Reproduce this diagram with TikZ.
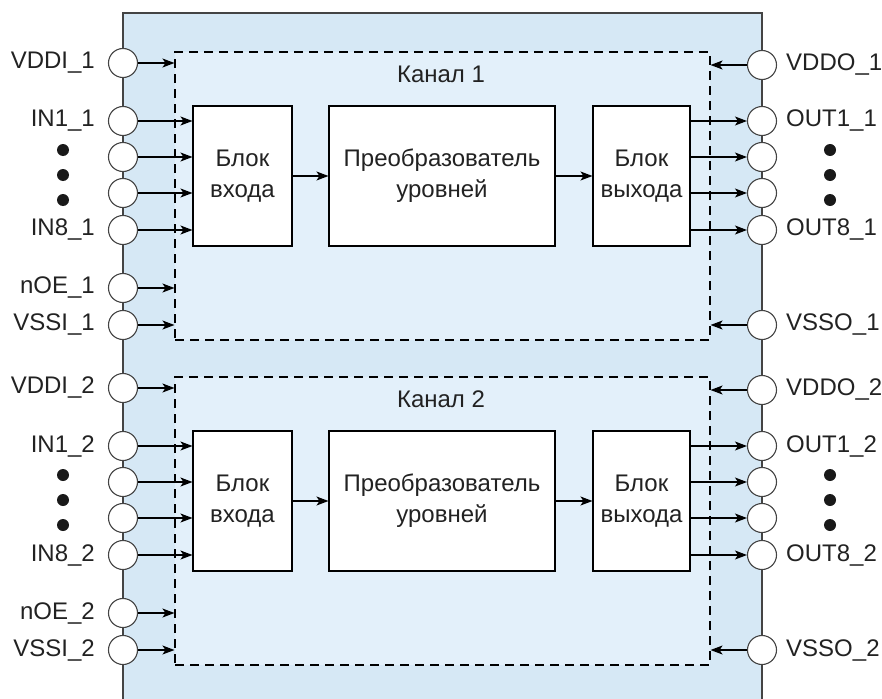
\documentclass[tikz,border=0pt]{standalone}
\usepackage{fontspec}
\setmainfont{Liberation Sans}
\usetikzlibrary{arrows.meta,calc}
\definecolor{outerbg}{HTML}{D6E8F5}
\definecolor{innerbg}{HTML}{E3F0FA}
\definecolor{txt}{HTML}{222222}
\definecolor{chipline}{HTML}{444444}
\tikzset{
  arr/.style={draw=black,line width=1.1pt,-{Stealth[length=12pt,width=9pt,inset=3pt]}},
  pin/.style={circle,draw=chipline,fill=white,line width=1.1pt,minimum size=29pt,inner sep=0pt},
  blk/.style={draw=black,fill=white,line width=1.1pt,minimum height=140pt,inner sep=0pt,align=center,text=txt,font=\fontsize{24}{31}\selectfont},
  chan/.style={draw=black,dashed,dash pattern=on 9pt off 6pt,fill=innerbg,line width=1.1pt,minimum width=535pt,minimum height=288pt,inner sep=0pt},
  lbl/.style={text=txt,font=\fontsize{24}{28}\selectfont,inner sep=0pt},
  dotb/.style={circle,fill=black!90,minimum size=12pt,inner sep=0pt},
}
\newcommand\mychannel[2]{%
\begin{scope}[yshift=-#2pt]
  \node[chan] (ch#1) at (442.5,196) {};
  \node[lbl] (lab#1) at (441,74) {Канал #1};
  \node[blk,minimum width=99pt] (bin#1) at (242.5,176) {Блок\\входа};
  \node[blk,minimum width=226pt] (conv#1) at (442,176) {Преобразователь\\уровней};
  \node[blk,minimum width=97pt] (bout#1) at (641.5,176) {Блок\\выхода};
  \draw[arr] (bin#1) -- (conv#1);
  \draw[arr] (conv#1) -- (bout#1);
  % left pins
  \node[pin] (vddi#1) at (123,63) {};
  \node[pin] (ina#1) at (123,121) {};
  \node[pin] (inb#1) at (123,157) {};
  \node[pin] (inc#1) at (123,193) {};
  \node[pin] (ind#1) at (123,230) {};
  \node[pin] (noe#1) at (123,288) {};
  \node[pin] (vssi#1) at (123,325) {};
  \draw[arr] (vddi#1) -- (vddi#1 -| ch#1.west);
  \draw[arr] (noe#1) -- (noe#1 -| ch#1.west);
  \draw[arr] (vssi#1) -- (vssi#1 -| ch#1.west);
  \foreach \p in {ina,inb,inc,ind}{\draw[arr] (\p#1) -- (\p#1 -| bin#1.west);}
  % right pins
  \node[pin] (vddo#1) at (762,65) {};
  \node[pin] (outa#1) at (762,121) {};
  \node[pin] (outb#1) at (762,157) {};
  \node[pin] (outc#1) at (762,193) {};
  \node[pin] (outd#1) at (762,230) {};
  \node[pin] (vsso#1) at (762,325) {};
  \draw[arr] (vddo#1) -- (vddo#1 -| ch#1.east);
  \draw[arr] (vsso#1) -- (vsso#1 -| ch#1.east);
  \foreach \p in {outa,outb,outc,outd}{\draw[arr] (\p#1 -| bout#1.east) -- (\p#1);}
  % labels
  \node[lbl,anchor=east] (lvddi#1) at (95,63) {VDDI\_#1};
  \node[lbl,anchor=east] (lina#1) at (95,121) {IN1\_#1};
  \node[lbl,anchor=east] (lind#1) at (95,230) {IN8\_#1};
  \node[lbl,anchor=east] (lnoe#1) at (95,288) {nOE\_#1};
  \node[lbl,anchor=east] (lvssi#1) at (95,325) {VSSI\_#1};
  \node[lbl,anchor=west] (lvddo#1) at (786,65) {VDDO\_#1};
  \node[lbl,anchor=west] (louta#1) at (786,121) {OUT1\_#1};
  \node[lbl,anchor=west] (loutd#1) at (786,230) {OUT8\_#1};
  \node[lbl,anchor=west] (lvsso#1) at (786,325) {VSSO\_#1};
  \node[dotb] (dla#1) at (63,150) {};
  \node[dotb] (dlb#1) at (63,175) {};
  \node[dotb] (dlc#1) at (63,200) {};
  \node[dotb] (dra#1) at (830,150) {};
  \node[dotb] (drb#1) at (830,175) {};
  \node[dotb] (drc#1) at (830,200) {};
\end{scope}}
\begin{document}
\begin{tikzpicture}[x=1pt,y=-1pt]
\useasboundingbox (0,0) rectangle (882,698);
\fill[outerbg] (123,13) rectangle (762,720);
\draw[chipline,line width=1.3pt] (123,720) -- (123,13) -- (762,13) -- (762,720);
\mychannel{1}{0}
\mychannel{2}{325}
\end{tikzpicture}
\end{document}
